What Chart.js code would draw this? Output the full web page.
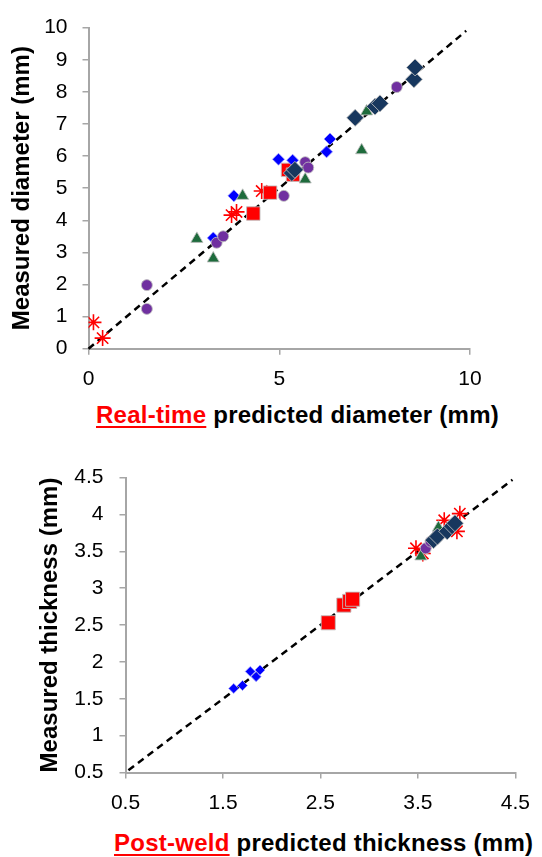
<!DOCTYPE html>
<html><head><meta charset="utf-8">
<script src="https://cdn.jsdelivr.net/npm/chart.js@4.4.1/dist/chart.umd.min.js"></script>
<style>
html,body{margin:0;padding:0;background:#fff;}
body{width:542px;height:857px;position:relative;overflow:hidden;font-family:"Liberation Sans",Arial,sans-serif;}
#w1{position:absolute;left:0;top:0;width:542px;height:400px;}
#w2{position:absolute;left:0;top:430px;width:542px;height:390px;}
.xt{position:absolute;font-weight:bold;font-size:24px;line-height:24px;white-space:nowrap;color:#000;letter-spacing:0.25px;}
.xt .hl{color:#f00;text-decoration:underline;text-decoration-thickness:2px;text-underline-offset:3px;}
</style></head>
<body>
<div id="w1"><canvas id="c1" width="542" height="400"></canvas></div>
<div id="w2"><canvas id="c2" width="542" height="390"></canvas></div>
<div class="xt" style="left:96px;top:403px;"><span class="hl">Real-time</span> predicted diameter (mm)</div>
<div class="xt" style="left:114px;top:831px;"><span class="hl">Post-weld</span> predicted thickness (mm)</div>
<script>
// ---------- Top chart: diameter ----------
const diaRedStarX = [0.13, 0.37, 3.75, 3.88, 4.54];
const diaRedStarY = [0.82, 0.33, 4.16, 4.26, 4.91];
const diaRedSqX = [4.32, 4.76, 5.23, 5.36];
const diaRedSqY = [4.21, 4.86, 5.57, 5.42];
const diaBlueX = [3.27, 3.81, 4.98, 5.35, 6.24, 6.33];
const diaBlueY = [3.45, 4.76, 5.90, 5.87, 6.13, 6.53];
const diaGreenX = [2.84, 3.27, 4.04, 5.68, 7.16, 7.29];
const diaGreenY = [3.42, 2.81, 4.76, 5.27, 6.18, 7.39];
const diaPurpleX = [1.53, 1.53, 3.36, 3.53, 5.12, 5.68, 5.76, 8.08];
const diaPurpleY = [1.98, 1.24, 3.30, 3.50, 4.76, 5.81, 5.64, 8.15];
const diaNavyX = [5.33, 5.41, 6.99, 7.51, 7.64, 8.53, 8.56];
const diaNavyY = [5.47, 5.57, 7.19, 7.54, 7.64, 8.39, 8.76];
const diaLineX = [0, 9.9];
const diaLineY = [0, 9.9];
const diaXTicks = [0, 5, 10];
const diaYTicks = [0, 1, 2, 3, 4, 5, 6, 7, 8, 9, 10];

// ---------- Bottom chart: thickness ----------
const thkRedStarX = [3.48, 3.55, 3.77, 3.90, 3.93];
const thkRedStarY = [3.54, 3.47, 3.92, 3.77, 4.01];
const thkRedSqX = [2.58, 2.74, 2.80, 2.83];
const thkRedSqY = [2.53, 2.77, 2.82, 2.85];
const thkBlueX = [1.61, 1.70, 1.78, 1.84, 1.88];
const thkBlueY = [1.64, 1.68, 1.87, 1.80, 1.89];
const thkGreenX = [3.53, 3.71];
const thkGreenY = [3.43, 3.82];
const thkPurpleX = [3.58, 3.63, 3.70];
const thkPurpleY = [3.54, 3.63, 3.72];
const thkNavyX = [3.66, 3.70, 3.80, 3.85, 3.88];
const thkNavyY = [3.65, 3.70, 3.77, 3.84, 3.88];
const thkLineX = [0.53, 4.47];
const thkLineY = [0.53, 4.47];
const thkXTicks = [0.5, 1.5, 2.5, 3.5, 4.5];
const thkYTicks = [0.5, 1, 1.5, 2, 2.5, 3, 3.5, 4, 4.5];

const pts = (xs, ys) => xs.map((x, i) => ({x: x, y: ys[i]}));
const glow = 'rgba(190,190,190,0.85)';

function makeSets(S, big) {
  return [
    {label:'navy', data: pts(S.navyX, S.navyY), pointStyle:'rectRot', pointRadius: 8.5,
     backgroundColor:'#17375E', borderColor: glow, borderWidth:1},
    {label:'purple', data: pts(S.purpleX, S.purpleY), pointStyle:'circle', pointRadius: 5.5,
     backgroundColor:'#7030A0', borderColor: glow, borderWidth:1},
    {label:'green', data: pts(S.greenX, S.greenY), pointStyle:'triangle', pointRadius: 7,
     backgroundColor:'#1E6B3C', borderColor: glow, borderWidth:1},
    {label:'blue', data: pts(S.blueX, S.blueY), pointStyle:'rectRot', pointRadius: big ? 6 : 5,
     backgroundColor:'#0000FF', borderColor: 'rgba(160,160,255,0.8)', borderWidth:1},
    {label:'redSq', data: pts(S.sqX, S.sqY), pointStyle:'rect', pointRadius: big ? 9.5 : 10,
     backgroundColor:'#FF0000', borderColor: glow, borderWidth:1},
    {label:'redStar', data: pts(S.starX, S.starY), pointStyle:'star', pointRadius: 8,
     backgroundColor:'#FF0000', borderColor:'#FF0000', borderWidth:1.6},
    {label:'y=x', type:'line', data: pts(S.lineX, S.lineY), showLine:true, pointRadius:0,
     borderColor:'#000', borderWidth:2.5, borderDash:[7,5], fill:false, clip:false}
  ];
}

function axisCommon(ticksArr, min, max, step) {
  return {
    type:'linear', min:min, max:max,
    afterBuildTicks: (ax) => { ax.ticks = ticksArr.map(v => ({value:v})); },
    ticks:{ stepSize: step, color:'#000', font:{family:'"Liberation Sans", Arial, sans-serif', size:21},
            padding: 12, callback: (v) => String(v) },
    grid:{ display:true, drawOnChartArea:false, drawTicks:true, tickLength:6, color:'#A6A6A6', lineWidth:1.5 },
    border:{ display:true, color:'#A6A6A6', width:2 }
  };
}

function makeChart(id, S, cfg) {
  const xs = axisCommon(cfg.xTicks, cfg.xMin, cfg.xMax, cfg.xStep);
  xs.afterFit = (sc) => { sc.height = cfg.xH; };
  const ys = axisCommon(cfg.yTicks, cfg.yMin, cfg.yMax, cfg.yStep);
  ys.ticks.padding = cfg.yPad;
  ys.afterFit = (sc) => { sc.width = cfg.yW; };
  ys.title = { display:true, text: cfg.yTitle, color:'#000',
    font:{family:'"Liberation Sans", Arial, sans-serif', size:24, weight:'bold'},
    padding:{top: cfg.yTitlePad, bottom:0} };
  return new Chart(document.getElementById(id), {
    type:'scatter',
    data:{ datasets: makeSets(S, cfg.big) },
    options:{
      responsive:false, animation:false, devicePixelRatio:1,
      layout:{ padding:{ left:0, right: cfg.padR, top: cfg.padT, bottom:0 } },
      plugins:{ legend:{display:false}, tooltip:{enabled:false}, title:{display:false} },
      scales:{ x: xs, y: ys }
    }
  });
}

makeChart('c1', {
  navyX: diaNavyX, navyY: diaNavyY, purpleX: diaPurpleX, purpleY: diaPurpleY,
  greenX: diaGreenX, greenY: diaGreenY, blueX: diaBlueX, blueY: diaBlueY,
  sqX: diaRedSqX, sqY: diaRedSqY, starX: diaRedStarX, starY: diaRedStarY,
  lineX: diaLineX, lineY: diaLineY
}, { xTicks: diaXTicks, yTicks: diaYTicks, xMin:0, xMax:10, xStep:5, yMin:0, yMax:10, yStep:1,
     xH: 51.3, yW: 88.5, padR: 72, padT: 19, yPad: 15, yTitlePad: 7.6, big:true,
     yTitle:'Measured diameter (mm)' });

makeChart('c2', {
  navyX: thkNavyX, navyY: thkNavyY, purpleX: thkPurpleX, purpleY: thkPurpleY,
  greenX: thkGreenX, greenY: thkGreenY, blueX: thkBlueX, blueY: thkBlueY,
  sqX: thkRedSqX, sqY: thkRedSqY, starX: thkRedStarX, starY: thkRedStarY,
  lineX: thkLineX, lineY: thkLineY
}, { xTicks: thkXTicks, yTicks: thkYTicks, xMin:0.5, xMax:4.5, xStep:1, yMin:0.5, yMax:4.5, yStep:0.5,
     xH: 47.5, yW: 125.5, padR: 17, padT: 47.5, yPad: 16, yTitlePad: 35.6, big:false,
     yTitle:'Measured thickness (mm)' });
</script>
</body></html>
